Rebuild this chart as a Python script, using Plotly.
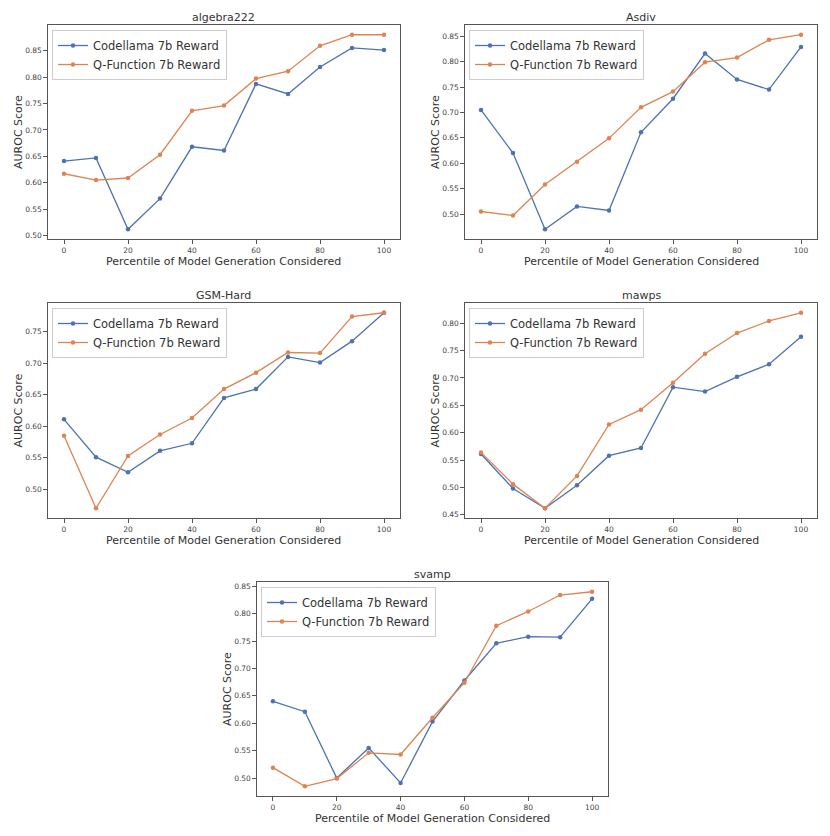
import plotly.graph_objects as go

# percentiles on the x axis
percentiles = [0, 10, 20, 30, 40, 50, 60, 70, 80, 90, 100]
panel_titles = ["algebra222", "Asdiv", "GSM-Hard", "mawps", "svamp"]
series_names = ["Codellama 7b Reward", "Q-Function 7b Reward"]
x_label = "Percentile of Model Generation Considered"
y_label = "AUROC Score"

# AUROC values
algebra_codellama = [0.641, 0.647, 0.512, 0.570, 0.668, 0.661, 0.787, 0.768, 0.819, 0.855, 0.851]
algebra_qfunc = [0.617, 0.605, 0.609, 0.653, 0.736, 0.746, 0.797, 0.811, 0.859, 0.880, 0.880]

asdiv_codellama = [0.705, 0.620, 0.470, 0.515, 0.507, 0.661, 0.727, 0.816, 0.765, 0.745, 0.829]
asdiv_qfunc = [0.505, 0.497, 0.558, 0.603, 0.649, 0.710, 0.741, 0.799, 0.808, 0.843, 0.853]

gsm_codellama = [0.611, 0.551, 0.527, 0.561, 0.573, 0.645, 0.659, 0.710, 0.701, 0.735, 0.780]
gsm_qfunc = [0.585, 0.470, 0.553, 0.587, 0.613, 0.659, 0.685, 0.717, 0.716, 0.774, 0.780]

mawps_codellama = [0.561, 0.498, 0.462, 0.504, 0.558, 0.572, 0.683, 0.675, 0.702, 0.725, 0.775]
mawps_qfunc = [0.564, 0.506, 0.462, 0.521, 0.615, 0.642, 0.691, 0.744, 0.782, 0.804, 0.819]

svamp_codellama = [0.640, 0.621, 0.500, 0.555, 0.491, 0.603, 0.678, 0.746, 0.758, 0.757, 0.827]
svamp_qfunc = [0.519, 0.485, 0.499, 0.546, 0.543, 0.610, 0.674, 0.778, 0.804, 0.834, 0.840]

panel_data = [
    (algebra_codellama, algebra_qfunc),
    (asdiv_codellama, asdiv_qfunc),
    (gsm_codellama, gsm_qfunc),
    (mawps_codellama, mawps_qfunc),
    (svamp_codellama, svamp_qfunc),
]

# the page body has an 8px margin, so the figure is a bit smaller than the window
OFF = 8
W, H = 830 - 2 * OFF, 836 - 2 * OFF
colors = ["#4C72B0", "#DD8452"]
FONT = "DejaVu Sans"
TEXT = "#333333"


def px_x(p):
    return (p - OFF) / W


def px_y(p):
    return 1 - (p - OFF) / H


# plot boxes in window pixels: left, right, top, bottom
boxes = [
    (48, 400, 25, 239),
    (465, 817, 25, 239),
    (48, 400, 303, 518),
    (465, 817, 303, 518),
    (257, 608, 582, 796),
]

fig = go.Figure()
layout = dict(
    width=W, height=H,
    margin=dict(l=0, r=0, t=0, b=0),
    paper_bgcolor="white", plot_bgcolor="white",
    font=dict(family=FONT, color=TEXT),
    showlegend=True,
    annotations=[],
)


def label(text, x, y, angle=0):
    return dict(text=text, x=px_x(x), y=px_y(y), xref="paper", yref="paper",
                xanchor="center", yanchor="middle", textangle=angle,
                showarrow=False, font=dict(size=11, color=TEXT, family=FONT))


for i, ((left, right, top, bottom), title, ys) in enumerate(zip(boxes, panel_titles, panel_data)):
    n = "" if i == 0 else str(i + 1)
    leg = "legend" if i == 0 else f"legend{i + 1}"
    for j, (name, vals) in enumerate(zip(series_names, ys)):
        fig.add_trace(go.Scatter(
            x=percentiles, y=vals, name=name, mode="lines+markers",
            line=dict(color=colors[j], width=1.3),
            marker=dict(color=colors[j], size=4.5),
            xaxis="x" + n, yaxis="y" + n, legend=leg,
        ))
    lo = min(min(ys[0]), min(ys[1]))
    hi = max(max(ys[0]), max(ys[1]))
    pad = (hi - lo) * 0.05
    axis_common = dict(
        showline=True, mirror=True, linecolor="#555555", linewidth=1.2,
        showgrid=False, zeroline=False, ticks="outside", ticklen=3.5,
        tickcolor="#555555", tickfont=dict(size=7.5, color="#444444", family=FONT),
    )
    layout["xaxis" + n] = dict(
        domain=[px_x(left), px_x(right)], anchor="y" + n, range=[-5, 105],
        tickvals=[0, 20, 40, 60, 80, 100], **axis_common,
    )
    layout["yaxis" + n] = dict(
        domain=[px_y(bottom), px_y(top)], anchor="x" + n,
        range=[lo - pad, hi + pad], dtick=0.05, tickformat=".2f", **axis_common,
    )
    layout[leg] = dict(
        x=px_x(left + 4), y=px_y(top + 5), xanchor="left", yanchor="top",
        bgcolor="rgba(255,255,255,0.8)", bordercolor="#cccccc", borderwidth=1,
        font=dict(size=11.5, color=TEXT, family=FONT),
        itemwidth=30, tracegroupgap=0,
    )
    layout["annotations"].append(label(title, (left + right) / 2, top - 8))
    layout["annotations"].append(label(x_label, (left + right) / 2, bottom + 22))
    layout["annotations"].append(label(y_label, left - 30, (top + bottom) / 2, -90))

fig.update_layout(**layout)
fig.write_html("out.html")
